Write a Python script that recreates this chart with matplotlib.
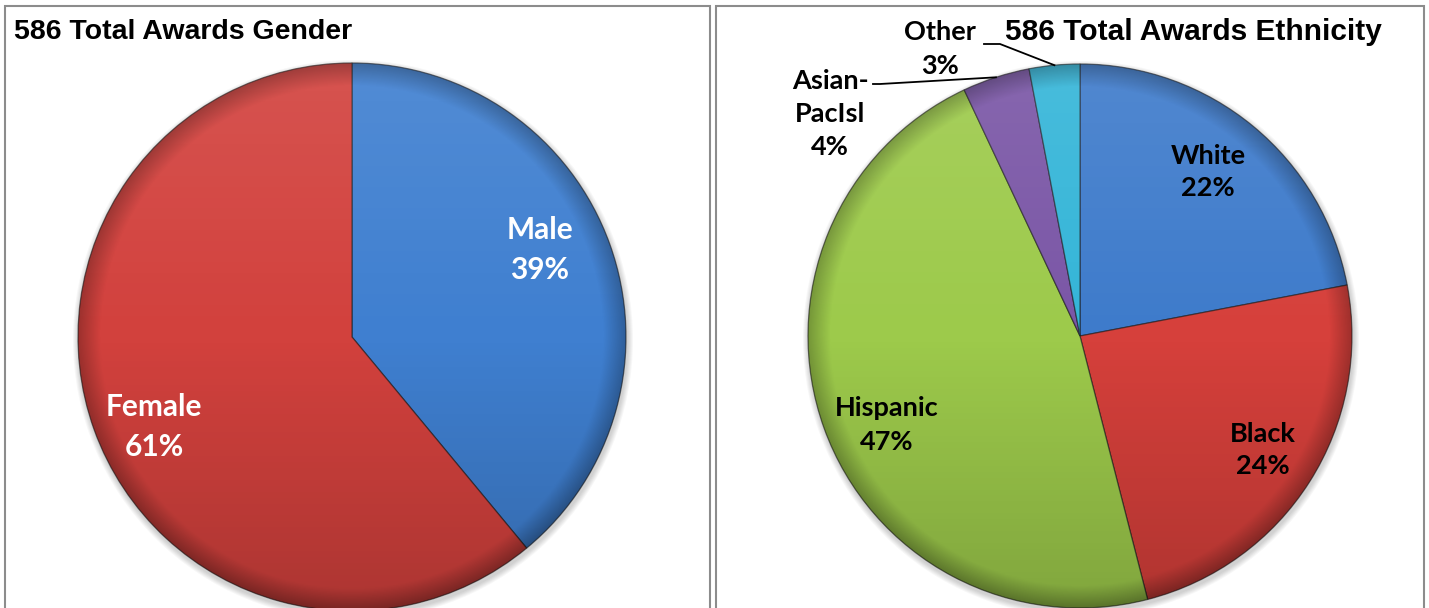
import matplotlib.pyplot as plt
import numpy as np
from matplotlib.patches import Circle, Rectangle

W, H = 1429, 608

gender_labels = ["Male", "Female"]
gender_pct = [39, 61]
gender_colors = ["#3f7fd0", "#d2413d"]

eth_labels = ["White", "Black", "Hispanic", "Asian-\nPacIsl", "Other"]
eth_pct = [22, 24, 47, 4, 3]
eth_colors = ["#3e7bcb", "#d6403b", "#9dca4b", "#7a56a6", "#34b5d8"]

fig = plt.figure(figsize=(W / 100, H / 100), dpi=100)
ax = fig.add_axes([0, 0, 1, 1])


def py(y):
    # pixel row (from top) -> data y
    return H - y


def shade(cx, cy, r):
    n = 300
    yy, xx = np.mgrid[1:-1:n * 1j, -1:1:n * 1j]
    rr = np.hypot(xx, yy)
    # light top
    hi = np.ones((n, n, 4))
    hi[..., 3] = np.clip(0.1 * yy, 0, 1)
    im = ax.imshow(hi, extent=[cx - r, cx + r, cy - r, cy + r], origin="upper",
                   zorder=3, interpolation="bilinear")
    im.set_clip_path(Circle((cx, cy), r, transform=ax.transData))
    # dark bottom + rim
    lo = np.zeros((n, n, 4))
    lo[..., 3] = np.clip(0.18 * np.clip(-yy, 0, 1) + 0.25 * np.clip((rr - 0.92) / 0.08, 0, 1), 0, 1)
    im2 = ax.imshow(lo, extent=[cx - r, cx + r, cy - r, cy + r], origin="upper",
                    zorder=3, interpolation="bilinear")
    im2.set_clip_path(Circle((cx, cy), r, transform=ax.transData))
    # soft shadow
    for k in range(6):
        ax.add_patch(Circle((cx + 1, cy - 3), r + 1 + k, color="black",
                            alpha=0.03, zorder=1, lw=0))


wp = dict(edgecolor=(0.1, 0.1, 0.1, 0.6), linewidth=0.9, zorder=2)

# gender pie
gc, gr = (352, py(337)), 274
gw, _ = ax.pie(gender_pct, colors=gender_colors, startangle=90, counterclock=False,
               center=gc, radius=gr, wedgeprops=wp, frame=True)
shade(gc[0], gc[1], gr)

# ethnicity pie
ec, er = (1080, py(336)), 272
ew, _ = ax.pie(eth_pct, colors=eth_colors, startangle=90, counterclock=False,
               center=ec, radius=er, wedgeprops=wp, frame=True)
shade(ec[0], ec[1], er)

lab = dict(family="Lato", weight="bold", ha="center", va="center", zorder=5)

ax.text(540, py(250), f"{gender_labels[0]}\n{gender_pct[0]}%", color="white",
        fontsize=21.5, linespacing=1.5, **lab)
ax.text(154, py(427), f"{gender_labels[1]}\n{gender_pct[1]}%", color="white",
        fontsize=21.5, linespacing=1.5, **lab)

eth_pos = [(1208, 172), (1263, 450), (887, 425), (830, 114), (940, 49)]
for name, pct, (x, y) in zip(eth_labels, eth_pct, eth_pos):
    ax.text(x, py(y), f"{name}\n{pct}%", color="black", fontsize=19.5,
            linespacing=1.45, **lab)


def edge_point(w):
    mid = np.deg2rad((w.theta1 + w.theta2) / 2)
    return w.center[0] + w.r * np.cos(mid), w.center[1] + w.r * np.sin(mid)


# leader lines for small slices
x3, y3 = edge_point(ew[3])
ax.plot([873, 880, x3], [py(84), py(84), y3], color="black", lw=1.3, zorder=6)
x4, y4 = edge_point(ew[4])
ax.plot([984, 1000, x4], [py(44), py(44), y4], color="black", lw=1.3, zorder=6)

# titles
tt = dict(family="Liberation Sans", weight="bold", va="center", zorder=6)
ax.text(14, py(32), "586 Total Awards Gender", ha="left", fontsize=20.5, **tt)
ax.text(1382, py(32), "586 Total Awards Ethnicity", ha="right", fontsize=21.5, **tt)

# panel borders
ax.add_patch(Rectangle((5, -5), 705, py(6) + 5, fill=False, edgecolor="#8c8c8c", lw=1.5, zorder=7))
ax.add_patch(Rectangle((716, -5), 708, py(6) + 5, fill=False, edgecolor="#8c8c8c", lw=1.5, zorder=7))

ax.set_xlim(0, W)
ax.set_ylim(0, H)
ax.set_aspect("auto")
ax.axis("off")

fig.savefig("out.png", dpi=100, facecolor="white")
